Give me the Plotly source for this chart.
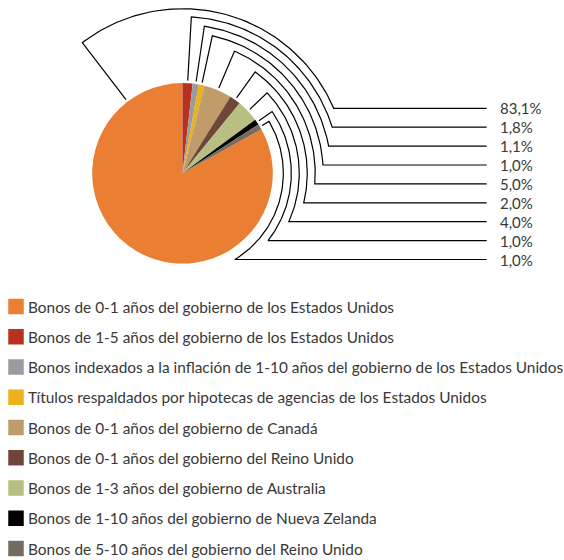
import math
import plotly.graph_objects as go

# Portfolio composition (%)
categories = [
    "Bonos de 0-1 años del gobierno de los Estados Unidos",
    "Bonos de 1-5 años del gobierno de los Estados Unidos",
    "Bonos indexados a la inflación de 1-10 años del gobierno de los Estados Unidos",
    "Títulos respaldados por hipotecas de agencias de los Estados Unidos",
    "Bonos de 0-1 años del gobierno de Canadá",
    "Bonos de 0-1 años del gobierno del Reino Unido",
    "Bonos de 1-3 años del gobierno de Australia",
    "Bonos de 1-10 años del gobierno de Nueva Zelanda",
    "Bonos de 5-10 años del gobierno del Reino Unido",
]
values = [83.1, 1.8, 1.1, 1.0, 5.0, 2.0, 4.0, 1.0, 1.0]
colors = ["#EA7E32", "#B8301F", "#9A9B9F", "#EAB11A", "#C09C6B",
          "#70463A", "#B9BF83", "#000000", "#756B5F"]

W, H = 564, 560
CX, CY, R = 182.5, 173.3, 90.3          # pie centre and radius (px)
FONT = "Lato"
TEXT_COLOR = "#383838"

# leader-line layout
LEAD_GAP = 2.5                           # gap between pie edge and leader start
LEAD_R0, LEAD_STEP = 164.6, 7.97         # radius of outermost routing arc, spacing
LABEL_Y0, LABEL_DY = 108.3, 18.9         # first value label row and row spacing
LINE_END_X, LABEL_X = 486.7, 497.5
FIRST_LEADER_ANGLE = -37.5               # attachment angle on the large slice (deg, clockwise from top)

# legend layout
LEG_Y0, LEG_DY = 306.5, 30.25
LEG_SWATCH_X, LEG_TEXT_X, LEG_SWATCH = 16.0, 26.0, 15.5

total = sum(values)
rotation = 360.0 * (1 - values[0] / total)   # small slices start at 12 o'clock

fig = go.Figure()

fig.add_trace(go.Pie(
    labels=categories, values=values, sort=False, direction="clockwise",
    rotation=rotation, textinfo="none", hoverinfo="label+percent",
    marker=dict(colors=colors, line=dict(width=0)), showlegend=False,
    domain=dict(x=[(CX - R) / W, (CX + R) / W],
                y=[1 - (CY + R) / H, 1 - (CY - R) / H]),
))

# slice mid-angles (clockwise from top, degrees)
mid_angles = [FIRST_LEADER_ANGLE]
acc = 0.0
for v in values[1:]:
    mid_angles.append((acc + v / 2) / total * 360.0)
    acc += v


def pt(r, a_deg):
    a = math.radians(a_deg)
    return CX + r * math.sin(a), CY - r * math.cos(a)


lx, ly = [], []
for i, a0 in enumerate(mid_angles):
    r = LEAD_R0 - LEAD_STEP * i
    y_lab = LABEL_Y0 + LABEL_DY * i
    x1, y1 = pt(R + LEAD_GAP, a0)
    x2, y2 = pt(r, a0)
    cosv = max(-1.0, min(1.0, (CY - y_lab) / r))
    a1 = math.degrees(math.acos(cosv))
    xs, ys = [x1, x2], [y1, y2]
    n = 80
    for k in range(1, n + 1):
        a = a0 + (a1 - a0) * k / n
        px, py = pt(r, a)
        xs.append(px)
        ys.append(py)
    xs.append(LINE_END_X)
    ys.append(y_lab)
    lx += xs + [None]
    ly += ys + [None]
    fig.add_annotation(
        x=LABEL_X, y=y_lab, xref="x", yref="y", xanchor="left", yanchor="middle",
        text=f"{values[i]:.1f}%".replace(".", ","), showarrow=False,
        font=dict(family=FONT, size=15, color=TEXT_COLOR),
    )

fig.add_trace(go.Scatter(
    x=lx, y=ly, mode="lines", line=dict(color="#000000", width=1.2),
    hoverinfo="skip", showlegend=False,
))

# legend
leg_y = [LEG_Y0 + LEG_DY * i for i in range(len(categories))]
fig.add_trace(go.Scatter(
    x=[LEG_SWATCH_X] * len(categories), y=leg_y, mode="markers",
    marker=dict(symbol="square", size=LEG_SWATCH, color=colors, line=dict(width=0)),
    hoverinfo="skip", showlegend=False,
))
for name, y in zip(categories, leg_y):
    fig.add_annotation(
        x=LEG_TEXT_X, y=y, xref="x", yref="y", xanchor="left", yanchor="middle",
        text=name, showarrow=False,
        font=dict(family=FONT, size=15.4, color=TEXT_COLOR),
    )

fig.update_layout(
    width=W, height=H, margin=dict(l=0, r=0, t=0, b=0),
    paper_bgcolor="white", plot_bgcolor="white",
    xaxis=dict(range=[0, W], visible=False, fixedrange=True),
    yaxis=dict(range=[H, 0], visible=False, fixedrange=True),
)

fig.write_html("out.html")
